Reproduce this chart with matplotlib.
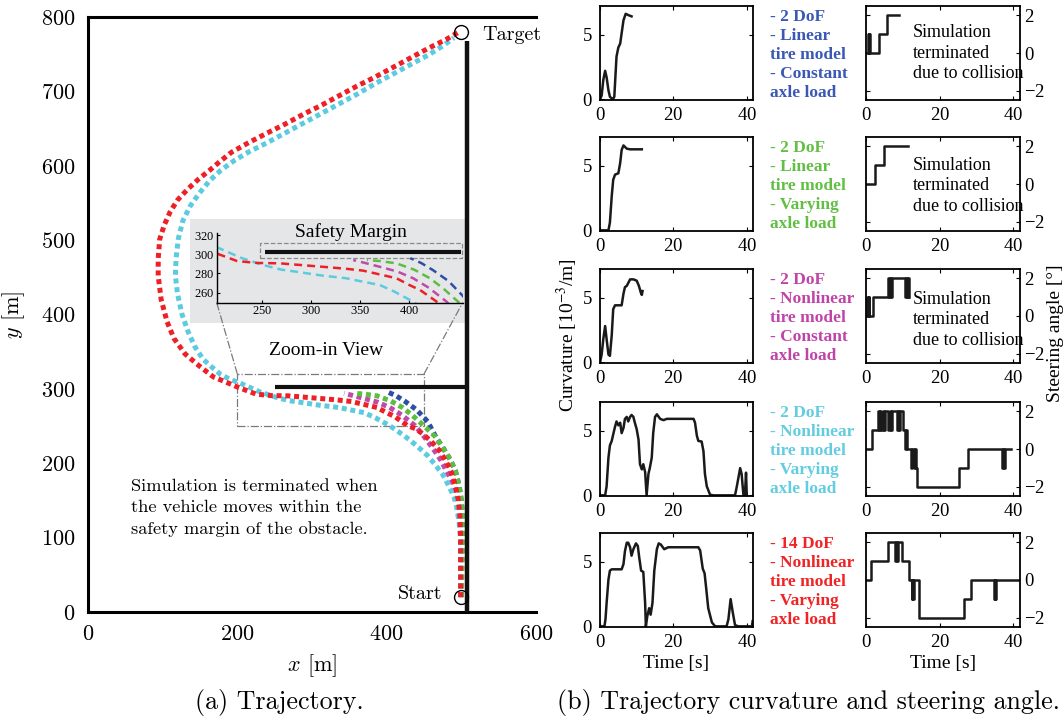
import matplotlib
matplotlib.use('Agg')
import matplotlib.pyplot as plt
from matplotlib.patches import Rectangle

plt.rcParams['mathtext.fontset'] = 'cm'
plt.rcParams['axes.unicode_minus'] = True
plt.rcParams['axes.formatter.use_mathtext'] = True

SERIF = 'Liberation Serif'
CM = 'cmr10'

# ---------------- data: trajectories (x [m], y [m]) ----------------
red_x = [499, 499, 499, 498, 496, 492, 486, 478, 470, 460, 450, 440, 428, 411, 400, 387, 370, 353, 335, 319,
         300, 268.6, 245, 225, 204, 199, 185, 168, 150, 130, 115, 106, 98, 94, 94, 96, 102, 110, 120, 134,
         148, 163, 177, 192, 215, 240, 264, 288, 312, 336, 360, 384, 408, 432, 456, 480, 497]
red_y = [20, 60, 100, 130, 150, 170, 190, 205, 218, 229, 238, 246, 250.5, 262.7, 268, 275, 279, 283, 285, 286.4,
         288, 290.6, 291, 293, 301, 303, 309, 316, 330, 347, 368, 390, 420, 452, 475, 501, 520, 538, 554, 569,
         582, 594, 606, 618, 631, 644, 656, 669, 681, 694, 707, 719, 732, 745, 758, 770, 780]
cyan_x = [499, 499, 499, 497, 494, 490, 483, 475, 465, 455, 442, 430, 415, 404, 385, 370, 350, 336, 310, 285.5,
          270, 251.6, 230, 204, 190, 178, 165, 154, 143, 134, 126, 120, 117, 118, 121, 127, 137, 149, 163, 178,
          196, 216, 240, 264, 288, 312, 336, 360, 384, 408, 432, 456, 475, 490]
cyan_y = [20, 60, 100, 120, 140, 155, 170, 185, 198, 210, 222, 232, 243, 250.5, 261, 268, 272, 275, 278, 281.8,
          284, 288.8, 296, 307.6, 313, 319, 330, 340, 357, 377, 400, 427, 452, 476, 502, 526, 546, 563, 580, 594,
          607, 619, 631, 644, 657, 670, 683, 696, 710, 723, 736, 749, 761, 772]
mag_x = [499, 499, 499, 498, 496, 493, 488, 480, 472, 462, 450, 438, 420, 404, 388, 370, 355, 343]
mag_y = [20, 60, 100, 120, 140, 160, 175, 190, 205, 220, 236, 250.5, 265, 275, 282, 287, 291, 294]
green_x = [500, 501, 502, 502, 500, 497, 492, 485, 476, 466, 448, 435, 421, 405, 387, 370, 357]
green_y = [20, 60, 100, 130, 150, 170, 190, 205, 220, 235, 252, 264, 275, 284, 290.6, 293, 294]
blue_x = [500, 500, 501, 501, 500, 497, 492, 485, 476, 466, 455, 440, 424, 412, 401]
blue_y = [20, 60, 100, 130, 150, 170, 190, 205, 220, 235, 256, 272, 283.6, 291, 296]

start_xy = (500, 20)
target_xy = (500, 780)
wall_x = 508
wall_y = (0, 768)
obstacle_x = (250, 508)
obstacle_y = 302

# ---------------- data: curvature [1e-3/m] vs time [s] ----------------
k1_t = [0, 0.45, 0.9, 1.4, 1.8, 2.3, 2.7, 3.5, 3.9, 4.5, 5.0, 5.5, 5.9, 6.4, 7.0, 7.7, 8.6]
k1_v = [0, 0.3, 1.5, 2.2, 1.7, 0.7, 0.2, 0, 0.2, 3.3, 4.0, 4.3, 5.1, 6.1, 6.6, 6.5, 6.4]
k2_t = [0, 2.3, 2.7, 3.2, 3.6, 4.1, 5.0, 5.5, 5.9, 6.4, 7.3, 8.2, 11.4]
k2_v = [0, 0, 0.6, 2.65, 3.9, 4.3, 4.4, 5.2, 6.2, 6.55, 6.3, 6.25, 6.25]
k3_t = [0, 0.45, 0.9, 1.4, 1.8, 2.3, 2.7, 3.2, 3.6, 4.1, 5.9, 6.4, 6.8, 7.3, 8.2, 9.1, 10.0, 10.6, 11.1, 11.4, 11.6]
k3_v = [0, 0.6, 1.8, 2.8, 1.8, 0.6, 0.5, 2.1, 4.1, 4.4, 4.4, 5.3, 5.8, 5.9, 6.4, 6.4, 6.3, 5.9, 5.4, 5.2, 5.5]
k4_t = [0, 1.4, 1.8, 2.3, 2.7, 3.2, 3.6, 4.1, 4.5, 5.0, 5.5, 5.9, 6.4, 6.8, 7.3, 7.7, 8.2, 8.6, 9.1, 9.5,
        10.0, 10.5, 10.9, 11.4, 11.8, 12.3, 12.7, 13.2, 13.6, 14.1, 14.5, 15.0, 15.5, 16.4, 17.3, 18.2, 25.5,
        25.9, 26.4, 26.8, 27.7, 28.2, 28.6, 29.1, 30.0, 30.9, 36.8, 37.3, 38.2, 38.6, 39.1, 39.5, 39.8, 40.0]
k4_v = [0, 0, 0.7, 2.9, 3.85, 4.2, 4.7, 5.3, 5.7, 5.4, 5.6, 4.8, 5.2, 5.9, 6.05, 5.7, 6.05, 6.2, 6.05, 5.6,
        5.1, 4.3, 2.4, 2.0, 2.4, 1.8, 0, 1.65, 2.15, 2.9, 4.8, 6.05, 6.25, 5.9, 5.8, 5.9, 5.9,
        5.6, 4.6, 4.2, 4.15, 3.4, 1.65, 0.7, 0.05, 0, 0, 0.7, 2.1, 1.65, 0, 0, 1.75, 0]
k5_t = [0, 1.2, 1.5, 1.8, 2.3, 2.7, 3.2, 5.9, 6.4, 6.8, 7.3, 7.7, 8.2, 8.6, 9.1, 9.8, 10.3, 10.7, 11.2, 11.8,
        12.3, 12.5, 12.9, 13.4, 13.8, 14.3, 14.8, 15.5, 16.0, 16.6, 17.5, 18.6, 26.8, 27.3, 28.0, 28.5, 28.9,
        29.5, 30.5, 31.4, 34.5, 35.0, 35.6, 36.2, 36.8, 37.7, 41.4, 41.6]
k5_v = [0, 0, 0.55, 1.8, 3.6, 4.3, 4.4, 4.4, 4.8, 5.8, 6.45, 6.45, 6.1, 5.45, 5.95, 6.4, 6.2, 5.3, 4.3, 4.2,
        1.8, 0, 0.8, 1.4, 0.9, 1.8, 4.3, 5.95, 6.4, 6.3, 5.95, 6.1, 6.1, 5.85, 4.45, 4.1, 3.05,
        1.4, 0.3, 0, 0, 0.55, 2.1, 1.05, 0.1, 0, 0, 0.4]

# ---------------- data: steering angle [deg] (step, value holds from t[i]) ----------------
s1_t = [0, 0.5, 0.7, 0.9, 1.1, 3.6, 5.6, 9.0]
s1_v = [0, 1, 0, 1, 0, 1, 2, 2]
s2_t = [0, 2.4, 4.9, 11.4]
s2_v = [0, 1, 2, 2]
s3_t = [0, 0.3, 0.5, 0.7, 0.9, 2.0, 5.9, 6.2, 6.5, 6.8, 7.1, 10.5, 10.8, 11.1, 11.4, 11.7]
s3_v = [0, 1, 0, 1, 0, 1, 2, 1, 2, 1, 2, 1, 2, 1, 2, 1]
s4_t = [0, 1.5, 3.3, 3.6, 3.9, 4.2, 4.5, 4.8, 5.1, 6.1, 6.4, 6.7, 7.0, 8.3, 8.6, 8.9, 9.2, 10.1, 10.5, 10.8,
        11.1, 11.4, 12.3, 12.6, 12.9, 13.2, 13.5, 13.9, 25.2, 27.7, 37.0, 37.2, 37.4, 37.6, 39.4]
s4_v = [0, 1, 2, 1, 2, 1, 2, 1, 2, 1, 2, 1, 2, 1, 2, 1, 2, 1, 0, 1,
        0, 0, -1, 0, -1, 0, -1, -2, -1, 0, -1, 0, -1, 0, 0]
s5_t = [0, 1.4, 5.9, 8.0, 8.2, 8.4, 8.6, 9.8, 11.8, 12.4, 12.6, 12.8, 13.0, 14.3, 26.5, 28.6, 34.7, 34.9,
        35.1, 35.3, 41.7]
s5_v = [0, 1, 2, 1, 2, 1, 2, 1, 0, -1, 0, -1, 0, -2, -1, 0, -1, 0, -1, 0, 0]

model_labels = [
    "- 2 DoF\n- Linear\ntire model\n- Constant\naxle load",
    "- 2 DoF\n- Linear\ntire model\n- Varying\naxle load",
    "- 2 DoF\n- Nonlinear\ntire model\n- Constant\naxle load",
    "- 2 DoF\n- Nonlinear\ntire model\n- Varying\naxle load",
    "- 14 DoF\n- Nonlinear\ntire model\n- Varying\naxle load",
]
collision_text = "Simulation\nterminated\ndue to collision"

C_BLUE = '#2f4ea6'
C_GREEN = '#5dbd40'
C_MAG = '#c14aa9'
C_CYAN = '#5ccbe0'
C_RED = '#ef1f26'
TXT_COLORS = ['#3a58b4', '#62bf45', '#c044a8', '#62cde0', '#f02424']

# ---------------- figure ----------------
W, H = 1064, 721
fig = plt.figure(figsize=(W / 100, H / 100), dpi=100)


def fa(l, t, r, b):
    return [l / W, 1 - b / H, (r - l) / W, (b - t) / H]


ax = fig.add_axes(fa(88, 17, 536, 612))
ax.set_xlim(0, 600)
ax.set_ylim(0, 800)
ax.set_xticks([0, 200, 400, 600])
ax.set_yticks(range(0, 801, 100))
ax.spines['right'].set_visible(False)
for s in ['left', 'bottom', 'top']:
    ax.spines[s].set_linewidth(2.2)
ax.tick_params(length=0, labelsize=16, pad=9)
for lab in ax.get_xticklabels() + ax.get_yticklabels():
    lab.set_fontfamily(CM)
ax.set_xlabel('$x$ [m]', fontfamily=CM, fontsize=16, labelpad=6)
ax.set_ylabel('$y$ [m]', fontfamily=CM, fontsize=16, labelpad=10)

# gray zoom-view background
ax.add_patch(Rectangle((137, 388), 369, 140, facecolor='#e5e6e8', edgecolor='none', zorder=0.5))

main_style = dict(lw=3.6, linestyle=(0, (1.0, 0.75)))
series = [(blue_x, blue_y, C_BLUE), (mag_x, mag_y, C_MAG), (green_x, green_y, C_GREEN),
          (cyan_x, cyan_y, C_CYAN), (red_x, red_y, C_RED)]
for xs, ys, c in series:
    ax.plot(xs, ys, color=c, zorder=2, **main_style)

ax.plot([wall_x, wall_x], wall_y, color='#111111', lw=3.2, zorder=3, solid_capstyle='butt')
ax.plot(obstacle_x, [obstacle_y, obstacle_y], color='#111111', lw=3.0, zorder=3, solid_capstyle='butt')
ax.plot(*start_xy, marker='o', ms=10, mfc='none', mec='black', mew=1.0, zorder=4)
ax.plot(*target_xy, marker='o', ms=10, mfc='none', mec='black', mew=1.0, zorder=4)
ax.text(528, 776, 'Target', fontfamily=CM, fontsize=14.5, ha='left', va='center')
ax.text(475, 24, 'Start', fontfamily=CM, fontsize=14.5, ha='right', va='center')

# zoom box and connectors
ax.add_patch(Rectangle((200, 250), 250, 70, facecolor='none', edgecolor='#7a7a7a',
                       lw=0.9, linestyle='-.', zorder=1))
ax.plot([200, 172.4], [320, 415.9], color='#7a7a7a', lw=0.9, linestyle='-.', zorder=1)
ax.plot([450, 501.8], [320, 415.9], color='#7a7a7a', lw=0.9, linestyle='-.', zorder=1)
ax.text(319, 351, 'Zoom-in View', fontfamily=SERIF, fontsize=14, ha='center', va='center')
ax.text(352, 511, 'Safety Margin', fontfamily=SERIF, fontsize=14, ha='center', va='center', zorder=6)
ax.text(57.6, 140, 'Simulation is terminated when\nthe vehicle moves within the\nsafety margin of the obstacle.',
        fontfamily=CM, fontsize=13.2, ha='left', va='center', linespacing=1.5)

# inset
axi = ax.inset_axes([172.4, 415.9, 329.4, 93.3], transform=ax.transData)
axi.set_facecolor('none')
axi.set_xlim(204.3, 454.3)
axi.set_ylim(249.5, 322)
axi.spines['top'].set_visible(False)
axi.spines['right'].set_visible(False)
axi.spines['left'].set_linewidth(1.0)
axi.spines['bottom'].set_linewidth(1.0)
axi.set_xticks([250, 300, 350, 400])
axi.set_yticks([260, 280, 300, 320])
axi.tick_params(direction='in', length=2.5, labelsize=9, pad=2)
for lab in axi.get_xticklabels() + axi.get_yticklabels():
    lab.set_fontfamily(SERIF)
inset_style = dict(lw=1.8, linestyle=(0, (3.2, 2.0)))
for xs, ys, c in series:
    axi.plot(xs, ys, color=c, **inset_style)
axi.add_patch(Rectangle((248, 296), 206, 15.5, facecolor='none', edgecolor='#8a8a8a',
                        lw=0.9, linestyle='--', clip_on=False))
axi.plot([253, 453], [302, 302], color='#111111', lw=3.0, solid_capstyle='butt', clip_on=False)

fig.text(279 / W, 1 - 703 / H, '(a) Trajectory.', fontfamily=CM, fontsize=18.7, ha='center', va='center')
fig.text(808 / W, 1 - 703 / H, '(b) Trajectory curvature and steering angle.', fontfamily=CM,
         fontsize=18.7, ha='center', va='center')

# ---------------- right panels ----------------
row_tops = [6, 137, 269, 402, 533]
row_h = 94
curv = [(k1_t, k1_v), (k2_t, k2_v), (k3_t, k3_v), (k4_t, k4_v), (k5_t, k5_v)]
steer = [(s1_t, s1_v), (s2_t, s2_v), (s3_t, s3_v), (s4_t, s4_v), (s5_t, s5_v)]
text_y = [0.5, 0.48, 0.46]


def style_small(a):
    for s in a.spines.values():
        s.set_linewidth(1.3)
    a.tick_params(direction='in', length=3, width=0.8, labelsize=13.5, pad=5,
                  top=True, right=True)
    for lab in a.get_xticklabels() + a.get_yticklabels():
        lab.set_fontfamily(SERIF)


for i in range(5):
    top = row_tops[i]
    al = fig.add_axes(fa(600, top, 753, top + row_h))
    al.plot(curv[i][0], curv[i][1], color='#1a1a1a', lw=1.8)
    al.set_xlim(0, 41.7)
    al.set_ylim(-0.05, 7.2)
    al.set_xticks([0, 20, 40])
    al.set_yticks([0, 5])
    style_small(al)

    ar = fig.add_axes(fa(866, top, 1020, top + row_h))
    ar.step(steer[i][0], steer[i][1], where='post', color='#1a1a1a', lw=1.8)
    ar.set_xlim(0, 41.8)
    ar.set_ylim(-2.5, 2.5)
    ar.set_xticks([0, 20, 40])
    ar.set_yticks([-2, 0, 2])
    ar.yaxis.tick_right()
    style_small(ar)
    ar.tick_params(left=True, right=True, labelleft=False, labelright=True)
    ar.tick_params(axis='y', pad=3)

    if i < 3:
        ar.text(0.305, text_y[i], collision_text, transform=ar.transAxes, fontfamily=SERIF,
                fontsize=13, ha='left', va='center', linespacing=1.25)

    fig.text(770 / W, 1 - (top + row_h / 2 + 2) / H, model_labels[i], color=TXT_COLORS[i],
             fontfamily=SERIF, fontweight='bold', fontsize=12.5, ha='left', va='center', linespacing=1.27)

    if i == 4:
        al.set_xlabel('Time [s]', fontfamily=SERIF, fontsize=14, labelpad=3)
        ar.set_xlabel('Time [s]', fontfamily=SERIF, fontsize=14, labelpad=3)

fig.text(567 / W, 1 - 335 / H, 'Curvature [10$^{-3}$/m]', fontfamily=SERIF, fontsize=14,
         rotation=90, ha='center', va='center', math_fontfamily='stix')
fig.text(1055 / W, 1 - 333 / H, 'Steering angle [°]', fontfamily=SERIF, fontsize=14,
         rotation=90, ha='center', va='center')

fig.savefig('out.png', dpi=100)
